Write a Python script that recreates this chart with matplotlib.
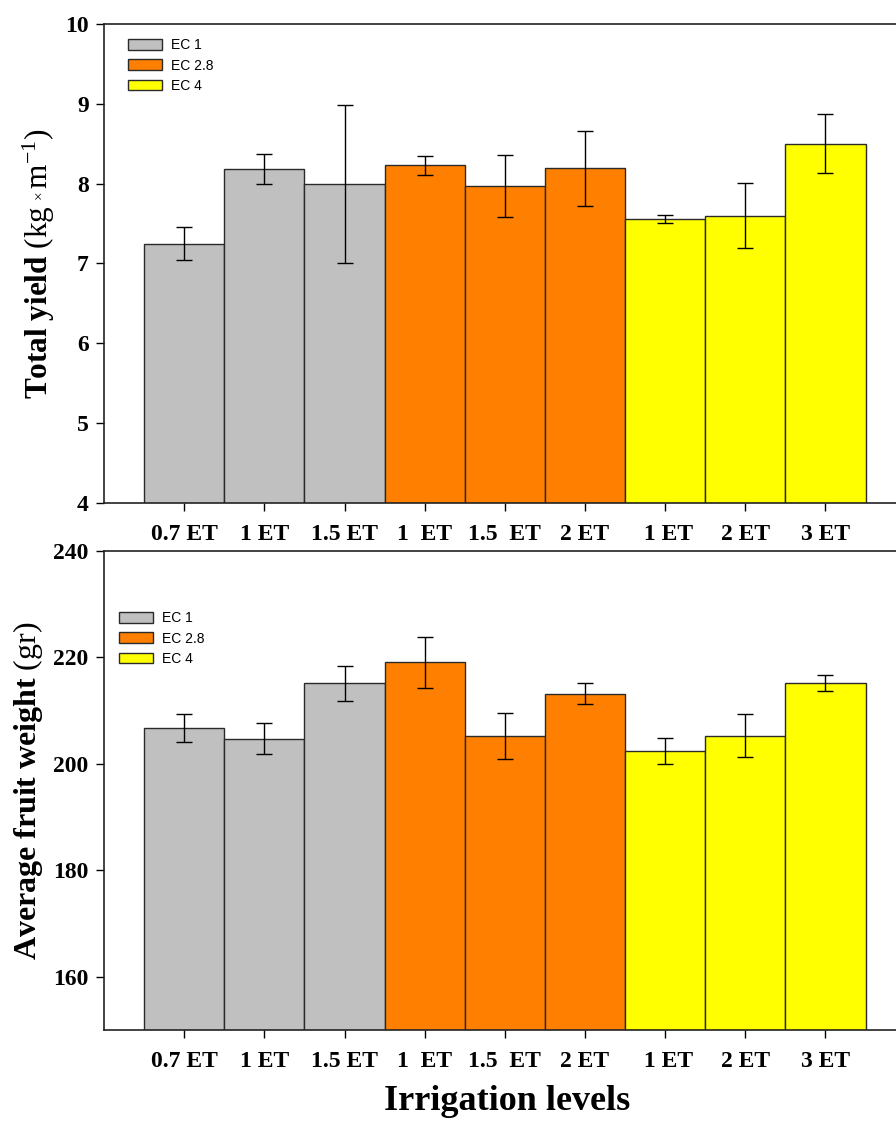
import numpy as np
import matplotlib
matplotlib.use("Agg")
import matplotlib.pyplot as plt
from matplotlib.patches import Patch

# ===========================================
# data: 3 salinity groups x 3 irrigation levels

tick_labels = ["0.7 ET", "1 ET", "1.5 ET", "1  ET", "1.5  ET", "2 ET", " 1 ET", "2 ET", "3 ET"]
ec_groups = ["EC 1", "EC 2.8", "EC 4"]
group_of_bar = [0, 0, 0, 1, 1, 1, 2, 2, 2]

total_yield = [7.25, 8.18, 8.00, 8.23, 7.97, 8.19, 7.56, 7.60, 8.50]
total_yield_err = [0.21, 0.19, 0.99, 0.12, 0.39, 0.47, 0.05, 0.41, 0.37]

fruit_weight = [206.7, 204.7, 215.1, 219.1, 205.2, 213.2, 202.4, 205.3, 215.1]
fruit_weight_err = [2.6, 2.9, 3.3, 4.8, 4.3, 1.9, 2.4, 4.1, 1.5]

# ===========================================

colors = ["#C0C0C0", "#FF8000", "#FFFF00"]
edge = "#2a2a2a"

plt.rcParams["mathtext.fontset"] = "custom"
plt.rcParams["mathtext.rm"] = "Liberation Serif"
plt.rcParams["mathtext.bf"] = "Liberation Serif:bold"
plt.rcParams["mathtext.it"] = "Liberation Serif:italic"

serif = "Liberation Serif"
sans = "Liberation Sans"

fig = plt.figure(figsize=(8.96, 11.26), dpi=100)
ax1 = fig.add_axes([0.1161, 0.5533, 0.8839, 0.4254])
ax2 = fig.add_axes([0.1161, 0.0853, 0.8839, 0.4254])

x = np.arange(1, len(tick_labels) + 1)


def draw_panel(ax, vals, errs, ylim, yticks, ylabel, leg_anchor, lab_size):
    bar_colors = [colors[g] for g in group_of_bar]
    ax.bar(x, vals, width=1.0, color=bar_colors, edgecolor=edge, linewidth=1.0,
           zorder=2)
    ax.errorbar(x, vals, yerr=errs, fmt="none", ecolor="black", elinewidth=1.0,
                capsize=5.5, capthick=1.0, zorder=3)
    ax.set_xlim(0, 9.88)
    ax.set_ylim(*ylim)
    ax.set_yticks(yticks)
    ax.set_xticks(x)
    ax.set_xticklabels(tick_labels)
    for lab in ax.get_xticklabels() + ax.get_yticklabels():
        lab.set_fontfamily(serif)
        lab.set_fontweight("bold")
        lab.set_fontsize(17)
    ax.tick_params(axis="x", direction="out", length=6, width=1.0, pad=9,
                   colors="black")
    ax.tick_params(axis="y", direction="out", length=6, width=1.0, pad=5,
                   colors="black")
    ax.spines["right"].set_visible(False)
    for s in ["left", "top", "bottom"]:
        ax.spines[s].set_linewidth(1.2)
        ax.spines[s].set_color("#222222")
    ax.set_ylabel(ylabel, fontfamily=serif, fontsize=lab_size, labelpad=6)

    handles = [Patch(facecolor=colors[i], edgecolor=edge, linewidth=1.0)
               for i in range(len(ec_groups))]
    ax.legend(handles, ec_groups, loc="upper left", bbox_to_anchor=leg_anchor,
              frameon=False, prop={"family": sans, "size": 10},
              handlelength=2.45, handleheight=0.8, handletextpad=0.65,
              labelspacing=0.45, borderpad=0, borderaxespad=0)


draw_panel(ax1, total_yield, total_yield_err, (4, 10), [4, 5, 6, 7, 8, 9, 10],
           r"$\mathbf{Total\ yield}$ (kg$\,_{^\times}$m$^{-1}$)", (0.0303, 0.97), 22.5)
draw_panel(ax2, fruit_weight, fruit_weight_err, (150, 240), [160, 180, 200, 220, 240],
           r"$\mathbf{Average\ fruit\ weight}$ (gr)", (0.019, 0.874), 23)

fig.text(0.566, 0.0215, "Irrigation levels", ha="center", va="center",
         fontfamily=serif, fontweight="bold", fontsize=26)

fig.savefig("out.png", dpi=100)
